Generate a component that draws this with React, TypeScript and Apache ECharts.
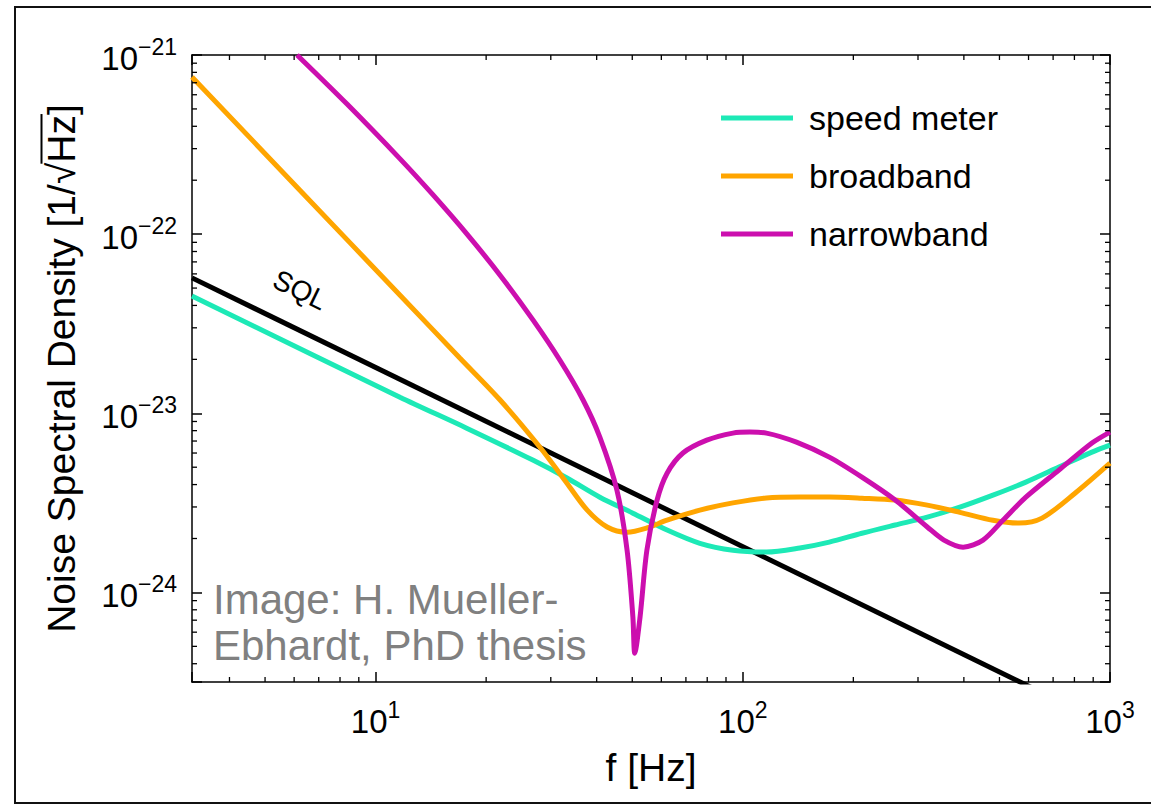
import React, { useEffect, useRef } from 'react';
import * as echarts from 'echarts';

const FONT = '"Liberation Sans", Arial, Helvetica, sans-serif';

// Axis ranges (true units)
const X_MIN = 3.1623;
const X_MAX = 1000;
const Y_MIN = 3.1623e-25;
const Y_MAX = 1e-21;
// the plotted y values are expressed in units of 1e-24 (log axis cannot handle tiny values)
const Y_UNIT_EXP = -24;

// Minor tick values
const xMinorTicks = [4, 5, 6, 7, 8, 9, 20, 30, 40, 50, 60, 70, 80, 90, 200, 300, 400, 500, 600, 700, 800, 900];
const yMinorTicks = [
  4e-25, 5e-25, 6e-25, 7e-25, 8e-25, 9e-25,
  2e-24, 3e-24, 4e-24, 5e-24, 6e-24, 7e-24, 8e-24, 9e-24,
  2e-23, 3e-23, 4e-23, 5e-23, 6e-23, 7e-23, 8e-23, 9e-23,
  2e-22, 3e-22, 4e-22, 5e-22, 6e-22, 7e-22, 8e-22, 9e-22,
];

// SQL
const sqlF = [3.162, 1000];
const sqlS = [5.7e-23, 1.8e-25];

// speed meter
const speedMeterF = [3.162, 11.65, 17.7, 26.8, 33.2, 40.8, 50.2, 62.2, 76.4, 94, 116, 143, 172, 211, 260, 318, 390, 480, 590, 726, 893, 1000];
const speedMeterS = [4.51e-23, 1.23e-23, 8.26e-24, 5.48e-24, 4.35e-24, 3.4e-24, 2.77e-24, 2.23e-24, 1.88e-24, 1.72e-24, 1.68e-24, 1.77e-24, 1.91e-24, 2.14e-24, 2.38e-24, 2.63e-24, 2.99e-24, 3.49e-24, 4.13e-24, 5.01e-24, 6.07e-24, 6.64e-24];

// broadband
const broadbandF = [3.162, 6.22, 11.64, 16.98, 21.8, 28.0, 33.2, 37.7, 42.7, 48.4, 54.8, 62.2, 76.4, 94, 116, 143, 172, 211, 260, 318, 390, 480, 565, 653, 803, 1000];
const broadbandS = [7.54e-22, 1.76e-22, 4.57e-23, 2.03e-23, 1.19e-23, 6.48e-24, 4.07e-24, 2.88e-24, 2.32e-24, 2.17e-24, 2.29e-24, 2.53e-24, 2.88e-24, 3.16e-24, 3.37e-24, 3.41e-24, 3.41e-24, 3.36e-24, 3.28e-24, 3.07e-24, 2.8e-24, 2.53e-24, 2.44e-24, 2.6e-24, 3.58e-24, 5.27e-24];

// narrowband
const narrowbandF = [6.11, 8.36, 11.64, 14.32, 17.74, 21.8, 26.85, 31.8, 36.7, 40.8, 45.4, 48.4, 50.2, 50.8, 52.5, 54.8, 58.4, 62.2, 68.7, 79.8, 94, 104.6, 116, 140, 172, 211, 260, 318, 353, 398, 451, 511, 590, 726, 893, 1000];
const narrowbandS = [1.0e-21, 5.32e-22, 2.64e-22, 1.66e-22, 1.0e-22, 5.92e-23, 3.31e-23, 1.97e-23, 1.19e-23, 7.36e-24, 3.73e-24, 1.72e-24, 7.28e-25, 4.58e-25, 7.28e-25, 1.72e-24, 3.27e-24, 4.63e-24, 6.0e-24, 7.08e-24, 7.75e-24, 7.85e-24, 7.75e-24, 6.9e-24, 5.69e-24, 4.4e-24, 3.28e-24, 2.32e-24, 1.96e-24, 1.79e-24, 1.96e-24, 2.53e-24, 3.4e-24, 4.82e-24, 6.82e-24, 7.85e-24];

const seriesNames = ['speed meter', 'broadband', 'narrowband'];
const seriesColors = ['#1de9b6', '#ffa500', '#cc0fae'];

const yTitlePre = 'Noise Spectral Density [1/\u221A';
const yTitle = yTitlePre + 'Hz]';
const annotation = 'Image: H. Mueller-\nEbhardt, PhD thesis';

const toUnit = (v: number) => Number((v * Math.pow(10, -Y_UNIT_EXP)).toPrecision(8));

function zip(f: number[], s: number[]) {
  return f.map((v, i) => [v, toUnit(s[i])]);
}

function powLabel(value: number, shift: number) {
  const e = Math.log10(value);
  const r = Math.round(e);
  if (Math.abs(e - r) > 1e-6) return '';
  const ex = r + shift;
  const exp = ex < 0 ? '\u2212' + -ex : String(ex);
  return '{b|10}{s|' + exp + '}';
}

const rich = {
  b: { fontSize: 33, lineHeight: 46, fontFamily: FONT, color: '#000' },
  s: { fontSize: 23, lineHeight: 20, verticalAlign: 'top', fontFamily: FONT, color: '#000' },
};

export default function App() {
  const ref = useRef<HTMLDivElement>(null);
  useEffect(() => {
    document.body.style.margin = '0';
    const chart = echarts.init(ref.current!, null, { renderer: 'svg' });

    const tfs = 39;
    const ctx = document.createElement('canvas').getContext('2d')!;
    ctx.font = `${tfs}px "Liberation Sans", Arial, sans-serif`;
    const wAll = ctx.measureText(yTitle).width;
    const wPre = ctx.measureText(yTitlePre).width;
    const wHz = ctx.measureText('Hz').width;
    const tcx = 61;
    const tcy = 55 + 627 / 2;
    const olX = tcx - 0.5 * tfs;
    const olY1 = tcy + wAll / 2 - wPre + 1;
    const olY2 = tcy + wAll / 2 - wPre - wHz - 1;

    const axisLineStyle = { color: '#000', width: 1.5 };
    const baseX = {
      type: 'log', logBase: 10, min: X_MIN, max: X_MAX,
      axisLine: { show: true, lineStyle: axisLineStyle },
      axisTick: { show: true, inside: true, length: 10, lineStyle: axisLineStyle },
      splitLine: { show: false },
    };
    const baseY = {
      type: 'log', logBase: 10, min: toUnit(Y_MIN), max: toUnit(Y_MAX),
      axisLine: { show: true, lineStyle: axisLineStyle },
      axisTick: { show: true, inside: true, length: 10, lineStyle: axisLineStyle },
      splitLine: { show: false },
    };

    const lineSeries = [
      [speedMeterF, speedMeterS],
      [broadbandF, broadbandS],
      [narrowbandF, narrowbandS],
    ].map(([f, s], i) => ({
      type: 'line',
      name: seriesNames[i],
      data: zip(f as number[], s as number[]),
      showSymbol: false,
      smooth: 0.3,
      color: seriesColors[i],
      lineStyle: { color: seriesColors[i], width: 5 },
      z: 3 + i,
      clip: true,
    }));

    const option: any = {
      animation: false,
      backgroundColor: '#fff',
      grid: { left: 192, top: 55, right: 41, bottom: 123, containLabel: false, outerBoundsMode: 'none' },
      xAxis: [
        {
          ...baseX, position: 'bottom',
          axisLabel: { formatter: (v: number) => powLabel(v, 0), rich, margin: 16 },
          name: 'f [Hz]', nameLocation: 'middle', nameGap: 66,
          nameTextStyle: { fontSize: 39, fontFamily: FONT, color: '#000' },
        },
        { ...baseX, position: 'top', axisLabel: { show: false } },
      ],
      yAxis: [
        {
          ...baseY, position: 'left',
          axisLabel: { formatter: (v: number) => powLabel(v, Y_UNIT_EXP), rich, margin: 15, padding: [7, 0, 0, 0] },
        },
        { ...baseY, position: 'right', axisLabel: { show: false } },
      ],
      legend: {
        data: seriesNames,
        orient: 'vertical',
        left: 716,
        top: 96,
        itemWidth: 72,
        itemHeight: 5,
        itemGap: 24,
        icon: 'rect',
        selectedMode: false,
        textStyle: { fontSize: 34, lineHeight: 34, fontFamily: FONT, color: '#000', padding: [0, 0, 0, 11] },
      },
      series: [
        {
          type: 'line', name: 'SQL', data: zip(sqlF, sqlS), showSymbol: false,
          color: '#000', lineStyle: { color: '#000', width: 5 }, z: 2, clip: true,
        },
        ...lineSeries,
        {
          type: 'custom', name: 'xMinor', silent: true, z: 10,
          data: xMinorTicks.map((v) => [v, 1]),
          renderItem: (params: any, api: any) => {
            const cs = params.coordSys;
            const px = api.coord([api.value(0), api.value(1)])[0];
            const st = { stroke: '#000', lineWidth: 1.3 };
            return {
              type: 'group',
              children: [
                { type: 'line', shape: { x1: px, y1: cs.y + cs.height, x2: px, y2: cs.y + cs.height - 5 }, style: st },
                { type: 'line', shape: { x1: px, y1: cs.y, x2: px, y2: cs.y + 5 }, style: st },
              ],
            };
          },
        },
        {
          type: 'custom', name: 'yMinor', silent: true, z: 10,
          data: yMinorTicks.map((v) => [10, toUnit(v)]),
          renderItem: (params: any, api: any) => {
            const cs = params.coordSys;
            const py = api.coord([api.value(0), api.value(1)])[1];
            const st = { stroke: '#000', lineWidth: 1.3 };
            return {
              type: 'group',
              children: [
                { type: 'line', shape: { x1: cs.x, y1: py, x2: cs.x + 5, y2: py }, style: st },
                { type: 'line', shape: { x1: cs.x + cs.width, y1: py, x2: cs.x + cs.width - 5, y2: py }, style: st },
              ],
            };
          },
        },
      ],
      graphic: [
        {
          type: 'rect', silent: true, z: 100,
          shape: { x: 15, y: 7, width: 1160, height: 796 },
          style: { fill: 'none', stroke: '#111', lineWidth: 2 },
        },
        {
          type: 'text', x: tcx, y: tcy, rotation: Math.PI / 2,
          style: { text: yTitle, fontSize: tfs, fontFamily: FONT, fill: '#000', align: 'center', verticalAlign: 'middle' },
        },
        {
          type: 'line', shape: { x1: olX, y1: olY1, x2: olX, y2: olY2 },
          style: { stroke: '#000', lineWidth: 2 },
        },
        {
          type: 'text', x: 300, y: 290, rotation: (-26 * Math.PI) / 180,
          style: { text: 'SQL', fontSize: 28, fontFamily: FONT, fill: '#000', align: 'center', verticalAlign: 'middle' },
        },
        {
          type: 'text', x: 213, y: 576,
          style: { text: annotation, fontSize: 42, lineHeight: 46, fontFamily: FONT, fill: '#808080', align: 'left', verticalAlign: 'top' },
        },
      ],
    };

    chart.setOption(option);
    return () => chart.dispose();
  }, []);

  return <div ref={ref} style={{ width: 1151, height: 805 }} />;
}
